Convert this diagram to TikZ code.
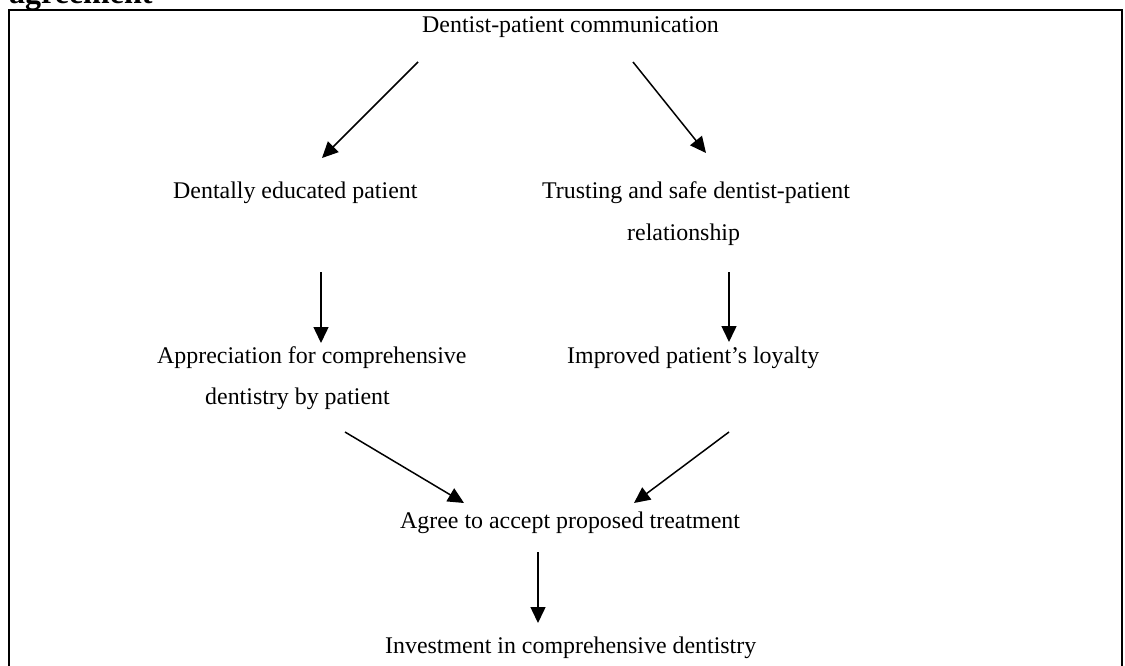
\documentclass[tikz,border=0pt]{standalone}
\usepackage{fontspec}
\setmainfont{Liberation Serif}
\usetikzlibrary{arrows.meta}
\begin{document}
\begin{tikzpicture}[x=1pt,y=-1pt,
  txt/.style={anchor=base west,inner sep=0pt,font=\fontsize{23.9}{28}\selectfont},
  ttl/.style={anchor=base west,inner sep=0pt,font=\bfseries\fontsize{32}{36}\selectfont},
  arr/.style={line width=1.5pt,-{Triangle[length=16pt,width=15pt]}},
  frame/.style={line width=2.6pt}]
\useasboundingbox (0,0) rectangle (1125,666);
% heading (cut off at top, as in the source)
\node[ttl] (heading) at (9,4) {agreement};
% frame
\draw[frame] (9,690) -- (9,10) -- (1122,10) -- (1122,690);
% texts
\node[txt] (comm) at (422,33) {Dentist-patient communication};
\node[txt] (edu) at (173,198) {Dentally educated patient};
\node[txt] (trust) at (542,198) {Trusting and safe dentist-patient};
\node[txt] (trustb) at (627,240) {relationship};
\node[txt] (appr) at (157,363) {Appreciation for comprehensive};
\node[txt] (apprb) at (205,404) {dentistry by patient};
\node[txt] (loyal) at (567,363) {Improved patient’s loyalty};
\node[txt] (agree) at (400,528) {Agree to accept proposed treatment};
\node[txt] (invest) at (385,653) {Investment in comprehensive dentistry};
% arrow end points
\coordinate (a1s) at (418,62);  \coordinate (a1e) at (322,158);
\coordinate (a2s) at (633,62);  \coordinate (a2e) at (706,153);
\coordinate (a3s) at (321,272); \coordinate (a3e) at (321,343);
\coordinate (a4s) at (729,272); \coordinate (a4e) at (729,342);
\coordinate (a5s) at (345,432); \coordinate (a5e) at (464,503);
\coordinate (a6s) at (729,432); \coordinate (a6e) at (634,503);
\coordinate (a7s) at (538,552); \coordinate (a7e) at (538,623);
\draw[arr] (a1s) -- (a1e);
\draw[arr] (a2s) -- (a2e);
\draw[arr] (a3s) -- (a3e);
\draw[arr] (a4s) -- (a4e);
\draw[arr] (a5s) -- (a5e);
\draw[arr] (a6s) -- (a6e);
\draw[arr] (a7s) -- (a7e);
\end{tikzpicture}
\end{document}
